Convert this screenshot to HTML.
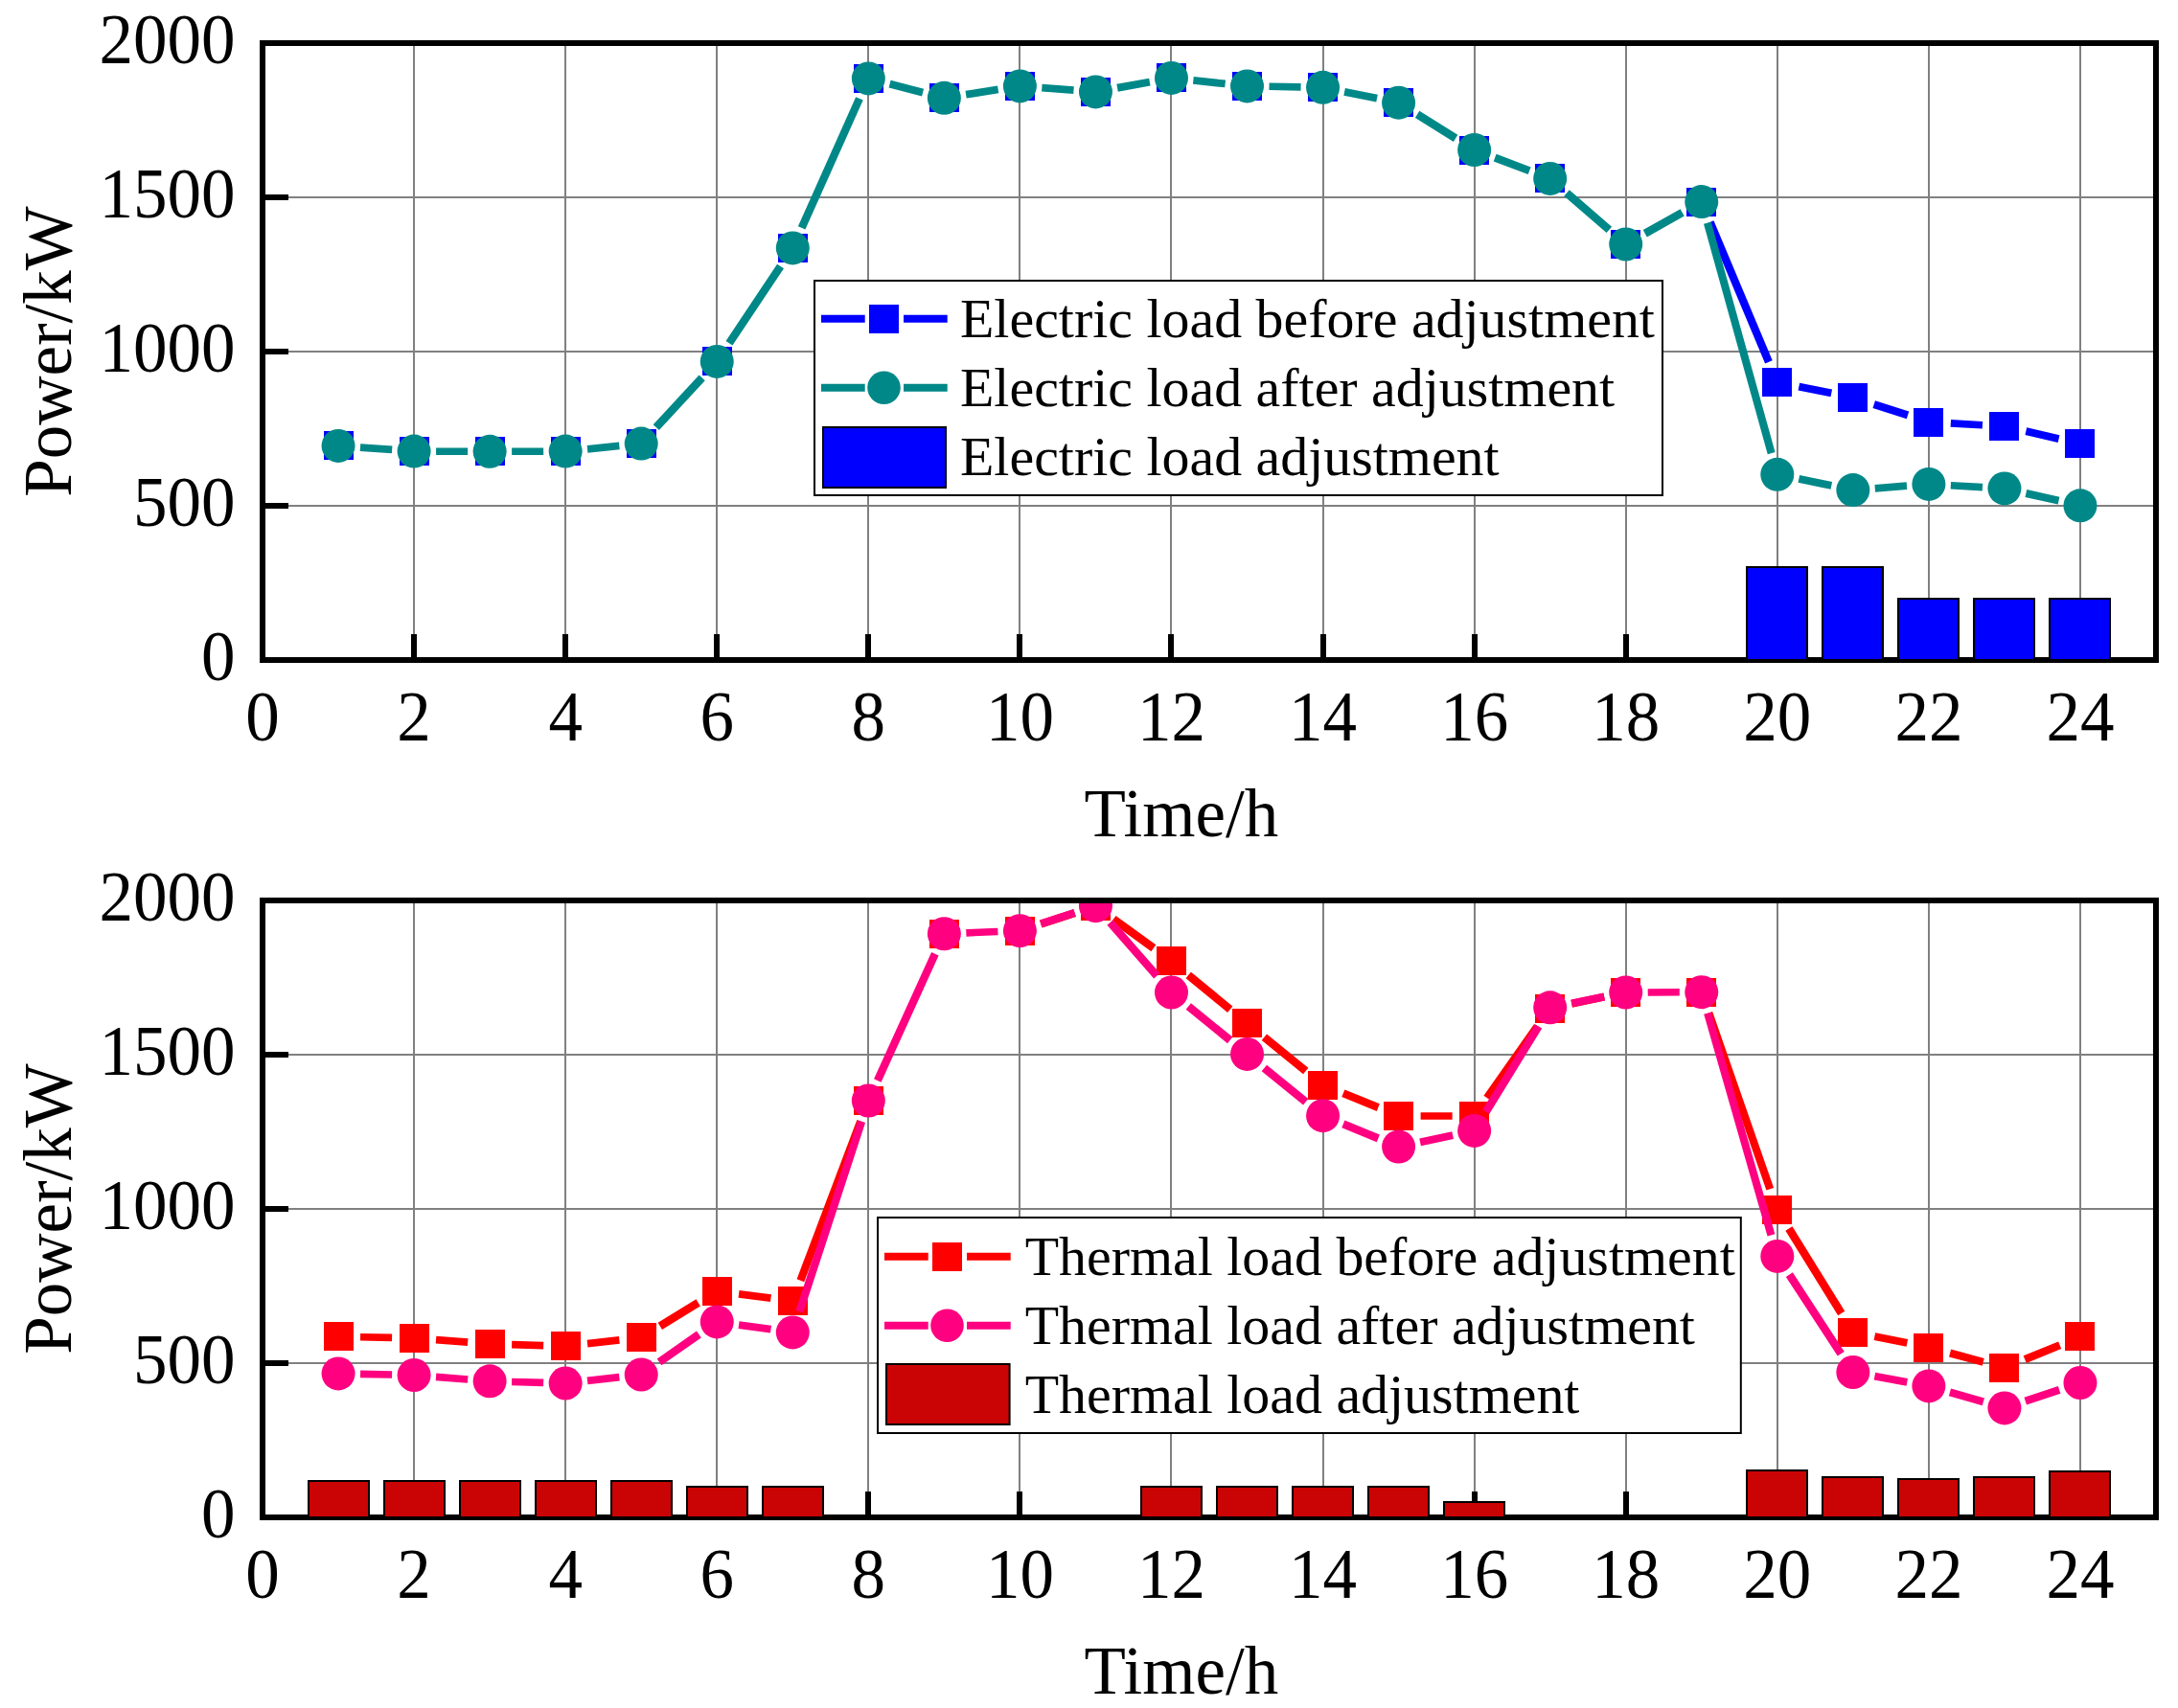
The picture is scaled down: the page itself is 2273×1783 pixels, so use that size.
<!DOCTYPE html>
<html><head><meta charset="utf-8"><title>Electric and thermal load adjustment</title>
<style>html,body{margin:0;padding:0;background:#fff;overflow:hidden}svg{display:block}</style>
</head><body>
<svg width="2273" height="1783" viewBox="0 0 2273 1783" font-family='&quot;Liberation Serif&quot;, &quot;Times New Roman&quot;, serif' fill="#000">
<defs>
<clipPath id="clip0"><rect x="277" y="48" width="1970" height="638"/></clipPath>
<clipPath id="clip1"><rect x="277" y="943" width="1970" height="638"/></clipPath>
</defs>
<rect width="2273" height="1783" fill="#fff"/>
<path d="M432 48V686M590 48V686M748 48V686M906 48V686M1064 48V686M1222 48V686M1381 48V686M1539 48V686M1697 48V686M1855 48V686M2013 48V686M2171 48V686M277 528H2247M277 367H2247M277 206H2247" stroke="#808080" stroke-width="2" fill="none" shape-rendering="crispEdges"/>
<path d="M432 689V662M590 689V662M748 689V662M906 689V662M1064 689V662M1222 689V662M1381 689V662M1539 689V662M1697 689V662M1855 689V662M2013 689V662M2171 689V662M274 528H301M274 367H301M274 206H301" stroke="#000" stroke-width="6" fill="none" shape-rendering="crispEdges"/>
<rect x="274" y="45" width="1976" height="644" fill="none" stroke="#000" stroke-width="6"/>
<g clip-path="url(#clip0)">
<g stroke="#0000FF" fill="none"><path d="M1784.66 231.81L1845.9 377.79" stroke-width="8.24"/><path d="M1877.35 403.54L1911.29 410.36" stroke-width="7.94"/><path d="M1955.71 422.01L1991.01 433.49" stroke-width="8.13"/><path d="M2035.84 441.88L2068.96 443.72" stroke-width="7.64"/><path d="M2114.33 450.16L2148.55 458.04" stroke-width="7.99"/></g>
<path d="M338 450h31v30h-31zM417 456h31v30h-31zM496 456h31v30h-31zM575 456h31v30h-31zM654 448h31v30h-31zM733 362h31v30h-31zM812 244h31v30h-31zM891 67h31v30h-31zM970 87h31v30h-31zM1049 75h31v30h-31zM1128 81h31v30h-31zM1207 66h31v30h-31zM1286 75h31v30h-31zM1365 76h31v30h-31zM1444 92h31v30h-31zM1523 142h31v30h-31zM1602 171h31v30h-31zM1681 240h31v30h-31zM1760 196h31v30h-31zM1839 384h31v30h-31zM1918 400h31v30h-31zM1997 426h31v30h-31zM2076 430h31v30h-31zM2155 448h31v30h-31z" fill="#0000FF" shape-rendering="crispEdges"/>
<g stroke="#008888" fill="none"><path d="M375.98 467.05L409.14 469.45" stroke-width="7.68"/><path d="M455.08 471.16L488.12 471.24" stroke-width="7.51"/><path d="M534.12 471.24L567.16 471.16" stroke-width="7.51"/><path d="M613.04 468.78L646.32 465.42" stroke-width="7.74"/><path d="M684.79 446.19L732.65 394.31" stroke-width="8.46"/><path d="M761 358.27L814.52 278.03" stroke-width="8.41"/><path d="M836.66 237.9L896.94 102.9" stroke-width="8.27"/><path d="M928.59 87.65L963.09 96.55" stroke-width="8.04"/><path d="M1008.08 98.74L1041.68 93.46" stroke-width="7.86"/><path d="M1087.33 91.64L1120.51 94.16" stroke-width="7.69"/><path d="M1166.07 91.76L1199.85 85.59" stroke-width="7.91"/><path d="M1245.35 83.89L1278.65 87.46" stroke-width="7.76"/><path d="M1324.52 90.31L1357.56 90.89" stroke-width="7.55"/><path d="M1403.11 95.84L1437.05 102.66" stroke-width="7.94"/><path d="M1479.12 119.37L1519.12 144.33" stroke-width="8.39"/><path d="M1560.15 164.64L1596.17 178.26" stroke-width="8.2"/><path d="M1635.05 201.48L1679.35 239.92" stroke-width="8.46"/><path d="M1716.77 243.74L1755.71 221.86" stroke-width="8.36"/><path d="M1781.91 232.76L1848.65 473.14" stroke-width="8.07"/><path d="M1877.33 499.95L1911.31 506.95" stroke-width="7.95"/><path d="M1956.77 509.8L1989.95 507.2" stroke-width="7.69"/><path d="M2035.84 506.71L2068.96 508.59" stroke-width="7.64"/><path d="M2114.35 514.98L2148.53 522.72" stroke-width="7.99"/></g>
<circle cx="353.04" cy="465.4" r="17.5" fill="#008888"/>
<circle cx="432.08" cy="471.1" r="17.5" fill="#008888"/>
<circle cx="511.12" cy="471.3" r="17.5" fill="#008888"/>
<circle cx="590.16" cy="471.1" r="17.5" fill="#008888"/>
<circle cx="669.2" cy="463.1" r="17.5" fill="#008888"/>
<circle cx="748.24" cy="377.4" r="17.5" fill="#008888"/>
<circle cx="827.28" cy="258.9" r="17.5" fill="#008888"/>
<circle cx="906.32" cy="81.9" r="17.5" fill="#008888"/>
<circle cx="985.36" cy="102.3" r="17.5" fill="#008888"/>
<circle cx="1064.4" cy="89.9" r="17.5" fill="#008888"/>
<circle cx="1143.44" cy="95.9" r="17.5" fill="#008888"/>
<circle cx="1222.48" cy="81.45" r="17.5" fill="#008888"/>
<circle cx="1301.52" cy="89.9" r="17.5" fill="#008888"/>
<circle cx="1380.56" cy="91.3" r="17.5" fill="#008888"/>
<circle cx="1459.6" cy="107.2" r="17.5" fill="#008888"/>
<circle cx="1538.64" cy="156.5" r="17.5" fill="#008888"/>
<circle cx="1617.68" cy="186.4" r="17.5" fill="#008888"/>
<circle cx="1696.72" cy="255" r="17.5" fill="#008888"/>
<circle cx="1775.76" cy="210.6" r="17.5" fill="#008888"/>
<circle cx="1854.8" cy="495.3" r="17.5" fill="#008888"/>
<circle cx="1933.84" cy="511.6" r="17.5" fill="#008888"/>
<circle cx="2012.88" cy="505.4" r="17.5" fill="#008888"/>
<circle cx="2091.92" cy="509.9" r="17.5" fill="#008888"/>
<circle cx="2170.96" cy="527.8" r="17.5" fill="#008888"/>
</g>
<rect x="1823" y="592" width="63" height="97" fill="#0000FF" stroke="#000" stroke-width="2" shape-rendering="crispEdges"/>
<rect x="1902" y="592" width="63" height="97" fill="#0000FF" stroke="#000" stroke-width="2" shape-rendering="crispEdges"/>
<rect x="1981" y="625" width="63" height="64" fill="#0000FF" stroke="#000" stroke-width="2" shape-rendering="crispEdges"/>
<rect x="2060" y="625" width="63" height="64" fill="#0000FF" stroke="#000" stroke-width="2" shape-rendering="crispEdges"/>
<rect x="2139" y="625" width="63" height="64" fill="#0000FF" stroke="#000" stroke-width="2" shape-rendering="crispEdges"/>
<rect x="850" y="293" width="885" height="224" fill="#fff" stroke="#000" stroke-width="2"/>
<path d="M857 332.8h45.7M943 332.8h45.7" stroke="#0000FF" stroke-width="8" fill="none"/>
<rect x="907" y="318" width="31" height="30" fill="#0000FF" shape-rendering="crispEdges"/>
<path d="M857 404.7h45.7M943 404.7h45.7" stroke="#008888" stroke-width="8" fill="none"/>
<circle cx="922.5" cy="404.7" r="17.3" fill="#008888"/>
<rect x="859" y="446" width="128" height="63" fill="#0000FF" stroke="#000" stroke-width="2"/>
<text x="1002" y="351.9" font-size="57.9">Electric load before adjustment</text>
<text x="1002" y="424" font-size="57.9">Electric load after adjustment</text>
<text x="1002" y="496.2" font-size="57.9">Electric load adjustment</text>
<text transform="translate(245.5 710) scale(1 1.04)" font-size="71" text-anchor="end">0</text>
<text transform="translate(245.5 549) scale(1 1.04)" font-size="71" text-anchor="end">500</text>
<text transform="translate(245.5 388) scale(1 1.04)" font-size="71" text-anchor="end">1000</text>
<text transform="translate(245.5 227) scale(1 1.04)" font-size="71" text-anchor="end">1500</text>
<text transform="translate(245.5 66) scale(1 1.04)" font-size="71" text-anchor="end">2000</text>
<text transform="translate(274 773) scale(1 1.04)" font-size="71" text-anchor="middle">0</text>
<text transform="translate(432.08 773) scale(1 1.04)" font-size="71" text-anchor="middle">2</text>
<text transform="translate(590.16 773) scale(1 1.04)" font-size="71" text-anchor="middle">4</text>
<text transform="translate(748.24 773) scale(1 1.04)" font-size="71" text-anchor="middle">6</text>
<text transform="translate(906.32 773) scale(1 1.04)" font-size="71" text-anchor="middle">8</text>
<text transform="translate(1064.4 773) scale(1 1.04)" font-size="71" text-anchor="middle">10</text>
<text transform="translate(1222.48 773) scale(1 1.04)" font-size="71" text-anchor="middle">12</text>
<text transform="translate(1380.56 773) scale(1 1.04)" font-size="71" text-anchor="middle">14</text>
<text transform="translate(1538.64 773) scale(1 1.04)" font-size="71" text-anchor="middle">16</text>
<text transform="translate(1696.72 773) scale(1 1.04)" font-size="71" text-anchor="middle">18</text>
<text transform="translate(1854.8 773) scale(1 1.04)" font-size="71" text-anchor="middle">20</text>
<text transform="translate(2012.88 773) scale(1 1.04)" font-size="71" text-anchor="middle">22</text>
<text transform="translate(2170.96 773) scale(1 1.04)" font-size="71" text-anchor="middle">24</text>
<text x="1131.6" y="872.8" font-size="71">Time/h</text>
<text transform="translate(74.1 367) rotate(-90)" x="0" y="0" font-size="71" text-anchor="middle">Power/kW</text>
<path d="M432 943V1581M590 943V1581M748 943V1581M906 943V1581M1064 943V1581M1222 943V1581M1381 943V1581M1539 943V1581M1697 943V1581M1855 943V1581M2013 943V1581M2171 943V1581M277 1423H2247M277 1262H2247M277 1101H2247" stroke="#808080" stroke-width="2" fill="none" shape-rendering="crispEdges"/>
<path d="M432 1584V1557M590 1584V1557M748 1584V1557M906 1584V1557M1064 1584V1557M1222 1584V1557M1381 1584V1557M1539 1584V1557M1697 1584V1557M1855 1584V1557M2013 1584V1557M2171 1584V1557M274 1423H301M274 1262H301M274 1101H301" stroke="#000" stroke-width="6" fill="none" shape-rendering="crispEdges"/>
<rect x="274" y="940" width="1976" height="644" fill="none" stroke="#000" stroke-width="6"/>
<g clip-path="url(#clip1)">
<g stroke="#FF0000" fill="none"><path d="M376.04 1395.81L409.08 1396.39" stroke-width="7.55"/><path d="M455.01 1398.57L488.19 1401.13" stroke-width="7.69"/><path d="M534.11 1403.6L567.17 1404.6" stroke-width="7.58"/><path d="M613.02 1402.73L646.34 1398.97" stroke-width="7.77"/><path d="M688.79 1384.35L728.65 1359.85" stroke-width="8.39"/><path d="M771.04 1350.8L804.48 1355.2" stroke-width="7.81"/><path d="M835.41 1336.68L898.19 1170.52" stroke-width="8.2"/><path d="M1086.27 964.53L1121.57 953.02" stroke-width="8.13"/><path d="M1162.05 959.42L1203.87 989.78" stroke-width="8.43"/><path d="M1240.24 1017.91L1283.76 1053.69" stroke-width="8.45"/><path d="M1319.37 1082.8L1362.71 1118" stroke-width="8.45"/><path d="M1401.84 1141.22L1438.32 1156.18" stroke-width="8.23"/><path d="M1482.6 1164.9L1515.64 1164.9" stroke-width="7.5"/><path d="M1551.87 1146.09L1604.45 1071.31" stroke-width="8.42"/><path d="M1640.19 1047.8L1674.21 1040.7" stroke-width="7.95"/><path d="M1783.31 1057.37L1847.25 1241.28" stroke-width="8.16"/><path d="M1866.92 1282.55L1921.72 1370.95" stroke-width="8.39"/><path d="M1956.38 1395.06L1990.34 1401.94" stroke-width="7.94"/><path d="M2035.08 1412.51L2069.72 1421.89" stroke-width="8.06"/><path d="M2113.2 1419.18L2149.68 1404.22" stroke-width="8.23"/></g>
<path d="M338 1380h31v30h-31zM417 1382h31v30h-31zM496 1388h31v30h-31zM575 1390h31v30h-31zM654 1381h31v30h-31zM733 1333h31v30h-31zM812 1343h31v30h-31zM891 1134h31v30h-31zM970 960h31v30h-31zM1049 957h31v30h-31zM1128 931h31v30h-31zM1207 988h31v30h-31zM1286 1053h31v30h-31zM1365 1118h31v30h-31zM1444 1150h31v30h-31zM1523 1150h31v30h-31zM1602 1038h31v30h-31zM1681 1021h31v30h-31zM1760 1021h31v30h-31zM1839 1248h31v30h-31zM1918 1376h31v30h-31zM1997 1392h31v30h-31zM2076 1413h31v30h-31zM2155 1380h31v30h-31z" fill="#FF0000" shape-rendering="crispEdges"/>
<g stroke="#FF0080" fill="none"><path d="M376.04 1434.37L409.08 1435.03" stroke-width="7.55"/><path d="M455.01 1437.33L488.19 1439.97" stroke-width="7.7"/><path d="M534.11 1442.44L567.17 1443.36" stroke-width="7.57"/><path d="M613.01 1441.4L646.35 1437.6" stroke-width="7.77"/><path d="M688.07 1421.85L729.37 1393.05" stroke-width="8.42"/><path d="M771.02 1383.07L804.5 1387.73" stroke-width="7.82"/><path d="M834.42 1369.04L899.18 1170.86" stroke-width="8.13"/><path d="M915.82 1128.05L975.86 995.7" stroke-width="8.27"/><path d="M1008.34 973.85L1041.42 972.55" stroke-width="7.6"/><path d="M1086.25 964.48L1121.59 952.87" stroke-width="8.14"/><path d="M1158.59 963.01L1207.33 1018.69" stroke-width="8.46"/><path d="M1240.31 1050.53L1283.69 1085.87" stroke-width="8.45"/><path d="M1319.36 1114.91L1362.72 1150.19" stroke-width="8.45"/><path d="M1401.84 1173.42L1438.32 1188.38" stroke-width="8.23"/><path d="M1482.1 1192.35L1516.14 1185.15" stroke-width="7.96"/><path d="M1550.68 1160.81L1605.64 1071.39" stroke-width="8.39"/><path d="M1640.23 1047.29L1674.17 1040.51" stroke-width="7.94"/><path d="M1719.72 1035.9L1752.76 1035.75" stroke-width="7.51"/><path d="M1782.1 1057.76L1848.46 1289.29" stroke-width="8.08"/><path d="M1867.37 1330.66L1921.27 1413.24" stroke-width="8.4"/><path d="M1956.47 1436.62L1990.25 1442.78" stroke-width="7.91"/><path d="M2034.96 1453.33L2069.84 1463.47" stroke-width="8.09"/><path d="M2113.74 1462.61L2149.14 1450.79" stroke-width="8.14"/></g>
<circle cx="353.04" cy="1433.9" r="17.5" fill="#FF0080"/>
<circle cx="432.08" cy="1435.5" r="17.5" fill="#FF0080"/>
<circle cx="511.12" cy="1441.8" r="17.5" fill="#FF0080"/>
<circle cx="590.16" cy="1444" r="17.5" fill="#FF0080"/>
<circle cx="669.2" cy="1435" r="17.5" fill="#FF0080"/>
<circle cx="748.24" cy="1379.9" r="17.5" fill="#FF0080"/>
<circle cx="827.28" cy="1390.9" r="17.5" fill="#FF0080"/>
<circle cx="906.32" cy="1149" r="17.5" fill="#FF0080"/>
<circle cx="985.36" cy="974.75" r="17.5" fill="#FF0080"/>
<circle cx="1064.4" cy="971.65" r="17.5" fill="#FF0080"/>
<circle cx="1143.44" cy="945.7" r="17.5" fill="#FF0080"/>
<circle cx="1222.48" cy="1036" r="17.5" fill="#FF0080"/>
<circle cx="1301.52" cy="1100.4" r="17.5" fill="#FF0080"/>
<circle cx="1380.56" cy="1164.7" r="17.5" fill="#FF0080"/>
<circle cx="1459.6" cy="1197.1" r="17.5" fill="#FF0080"/>
<circle cx="1538.64" cy="1180.4" r="17.5" fill="#FF0080"/>
<circle cx="1617.68" cy="1051.8" r="17.5" fill="#FF0080"/>
<circle cx="1696.72" cy="1036" r="17.5" fill="#FF0080"/>
<circle cx="1775.76" cy="1035.65" r="17.5" fill="#FF0080"/>
<circle cx="1854.8" cy="1311.4" r="17.5" fill="#FF0080"/>
<circle cx="1933.84" cy="1432.5" r="17.5" fill="#FF0080"/>
<circle cx="2012.88" cy="1446.9" r="17.5" fill="#FF0080"/>
<circle cx="2091.92" cy="1469.9" r="17.5" fill="#FF0080"/>
<circle cx="2170.96" cy="1443.5" r="17.5" fill="#FF0080"/>
</g>
<rect x="322" y="1546" width="63" height="38" fill="#CA0404" stroke="#000" stroke-width="2" shape-rendering="crispEdges"/>
<rect x="401" y="1546" width="63" height="38" fill="#CA0404" stroke="#000" stroke-width="2" shape-rendering="crispEdges"/>
<rect x="480" y="1546" width="63" height="38" fill="#CA0404" stroke="#000" stroke-width="2" shape-rendering="crispEdges"/>
<rect x="559" y="1546" width="63" height="38" fill="#CA0404" stroke="#000" stroke-width="2" shape-rendering="crispEdges"/>
<rect x="638" y="1546" width="63" height="38" fill="#CA0404" stroke="#000" stroke-width="2" shape-rendering="crispEdges"/>
<rect x="717" y="1552" width="63" height="32" fill="#CA0404" stroke="#000" stroke-width="2" shape-rendering="crispEdges"/>
<rect x="796" y="1552" width="63" height="32" fill="#CA0404" stroke="#000" stroke-width="2" shape-rendering="crispEdges"/>
<rect x="1191" y="1552" width="63" height="32" fill="#CA0404" stroke="#000" stroke-width="2" shape-rendering="crispEdges"/>
<rect x="1270" y="1552" width="63" height="32" fill="#CA0404" stroke="#000" stroke-width="2" shape-rendering="crispEdges"/>
<rect x="1349" y="1552" width="63" height="32" fill="#CA0404" stroke="#000" stroke-width="2" shape-rendering="crispEdges"/>
<rect x="1428" y="1552" width="63" height="32" fill="#CA0404" stroke="#000" stroke-width="2" shape-rendering="crispEdges"/>
<rect x="1507" y="1568" width="63" height="16" fill="#CA0404" stroke="#000" stroke-width="2" shape-rendering="crispEdges"/>
<rect x="1823" y="1535" width="63" height="49" fill="#CA0404" stroke="#000" stroke-width="2" shape-rendering="crispEdges"/>
<rect x="1902" y="1542" width="63" height="42" fill="#CA0404" stroke="#000" stroke-width="2" shape-rendering="crispEdges"/>
<rect x="1981" y="1544" width="63" height="40" fill="#CA0404" stroke="#000" stroke-width="2" shape-rendering="crispEdges"/>
<rect x="2060" y="1542" width="63" height="42" fill="#CA0404" stroke="#000" stroke-width="2" shape-rendering="crispEdges"/>
<rect x="2139" y="1536" width="63" height="48" fill="#CA0404" stroke="#000" stroke-width="2" shape-rendering="crispEdges"/>
<rect x="916" y="1271" width="900.8" height="225" fill="#fff" stroke="#000" stroke-width="2"/>
<path d="M923 1311.7h45.7M1009 1311.7h45.7" stroke="#FF0000" stroke-width="8" fill="none"/>
<rect x="973" y="1297" width="31" height="30" fill="#FF0000" shape-rendering="crispEdges"/>
<path d="M923 1383.7h45.7M1009 1383.7h45.7" stroke="#FF0080" stroke-width="8" fill="none"/>
<circle cx="988.5" cy="1383.7" r="17.3" fill="#FF0080"/>
<rect x="925" y="1424" width="128.6" height="63" fill="#CA0404" stroke="#000" stroke-width="2"/>
<text x="1069.7" y="1330.8" font-size="57.9">Thermal load before adjustment</text>
<text x="1069.7" y="1403" font-size="57.9">Thermal load after adjustment</text>
<text x="1069.7" y="1475" font-size="57.9">Thermal load adjustment</text>
<text transform="translate(245.5 1605) scale(1 1.04)" font-size="71" text-anchor="end">0</text>
<text transform="translate(245.5 1444) scale(1 1.04)" font-size="71" text-anchor="end">500</text>
<text transform="translate(245.5 1283) scale(1 1.04)" font-size="71" text-anchor="end">1000</text>
<text transform="translate(245.5 1122) scale(1 1.04)" font-size="71" text-anchor="end">1500</text>
<text transform="translate(245.5 961) scale(1 1.04)" font-size="71" text-anchor="end">2000</text>
<text transform="translate(274 1668) scale(1 1.04)" font-size="71" text-anchor="middle">0</text>
<text transform="translate(432.08 1668) scale(1 1.04)" font-size="71" text-anchor="middle">2</text>
<text transform="translate(590.16 1668) scale(1 1.04)" font-size="71" text-anchor="middle">4</text>
<text transform="translate(748.24 1668) scale(1 1.04)" font-size="71" text-anchor="middle">6</text>
<text transform="translate(906.32 1668) scale(1 1.04)" font-size="71" text-anchor="middle">8</text>
<text transform="translate(1064.4 1668) scale(1 1.04)" font-size="71" text-anchor="middle">10</text>
<text transform="translate(1222.48 1668) scale(1 1.04)" font-size="71" text-anchor="middle">12</text>
<text transform="translate(1380.56 1668) scale(1 1.04)" font-size="71" text-anchor="middle">14</text>
<text transform="translate(1538.64 1668) scale(1 1.04)" font-size="71" text-anchor="middle">16</text>
<text transform="translate(1696.72 1668) scale(1 1.04)" font-size="71" text-anchor="middle">18</text>
<text transform="translate(1854.8 1668) scale(1 1.04)" font-size="71" text-anchor="middle">20</text>
<text transform="translate(2012.88 1668) scale(1 1.04)" font-size="71" text-anchor="middle">22</text>
<text transform="translate(2170.96 1668) scale(1 1.04)" font-size="71" text-anchor="middle">24</text>
<text x="1131.6" y="1767.8" font-size="71">Time/h</text>
<text transform="translate(74.1 1262) rotate(-90)" x="0" y="0" font-size="71" text-anchor="middle">Power/kW</text>
</svg>
</body></html>
